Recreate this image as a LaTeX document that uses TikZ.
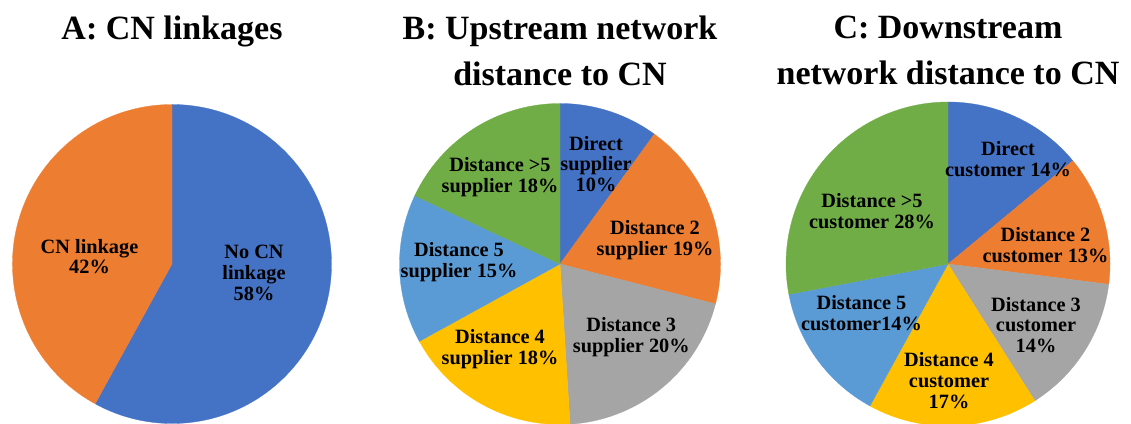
\documentclass[tikz,border=0pt]{standalone}
\usepackage{fontspec}
\setmainfont{Liberation Serif}
\definecolor{piblue}{HTML}{4472C4}
\definecolor{piorange}{HTML}{ED7D31}
\definecolor{pigray}{HTML}{A5A5A5}
\definecolor{piyellow}{HTML}{FFC000}
\definecolor{pilightblue}{HTML}{5B9BD5}
\definecolor{pigreen}{HTML}{70AD47}
\tikzset{
  charttitle/.style={font=\fontsize{34}{45.5}\selectfont\bfseries, align=center, inner sep=0pt, anchor=north},
  slicetext/.style={font=\fontsize{20.3}{20.8}\selectfont\bfseries, align=center, inner sep=0pt}
}
\begin{document}
\begin{tikzpicture}[x=1pt,y=1pt]
  \useasboundingbox (0,0) rectangle (1131,423);
  \clip (0,0) rectangle (1131,423);
  \coordinate (ca) at (172,159);
  \coordinate (cb) at (560,159);
  \coordinate (cc) at (948,159);
  % A: two slices
  \foreach \a/\b/\c in {90/-118.8/piblue, -118.8/-270/piorange}
    \filldraw[fill=\c, draw=\c, line width=0.3pt] (ca) -- ++(\a:159.5pt) arc[start angle=\a, end angle=\b, radius=159.5pt] -- cycle;
  % B: upstream
  \foreach \a/\b/\c in {90/54/piblue, 54/-14.4/piorange, -14.4/-86.4/pigray,
      -86.4/-151.2/piyellow, -151.2/-205.2/pilightblue, -205.2/-270/pigreen}
    \filldraw[fill=\c, draw=\c, line width=0.3pt] (cb) -- ++(\a:160.5pt) arc[start angle=\a, end angle=\b, radius=160.5pt] -- cycle;
  % C: downstream
  \foreach \a/\b/\c in {90/39.6/piblue, 39.6/-7.2/piorange, -7.2/-57.6/pigray,
      -57.6/-118.8/piyellow, -118.8/-169.2/pilightblue, -169.2/-270/pigreen}
    \filldraw[fill=\c, draw=\c, line width=0.3pt] (cc) -- ++(\a:162pt) arc[start angle=\a, end angle=\b, radius=162pt] -- cycle;

  \node[charttitle] (ta) at (172,407) {A: CN linkages};
  \node[charttitle] (tb) at (560,407) {B: Upstream network\\distance to CN};
  \node[charttitle] (tc) at (948,407) {C: Downstream\\network distance to CN};

  \node[slicetext] (a1) at (254,150) {No CN\\linkage\\58\%};
  \node[slicetext] (a2) at (89.5,166.5) {CN linkage\\42\%};

  \node[slicetext] (b1) at (596,259) {Direct\\supplier\\10\%};
  \node[slicetext] (b2) at (655,183.2) {Distance 2\\supplier 19\%};
  \node[slicetext] (b3) at (631.3,85.6) {Distance 3\\supplier 20\%};
  \node[slicetext] (b4) at (500,74) {Distance 4\\supplier 18\%};
  \node[slicetext] (b5) at (459,161) {Distance 5\\supplier 15\%};
  \node[slicetext] (b6) at (500,246) {Distance >5\\supplier 18\%};

  \node[slicetext] (c1) at (1008,264) {Direct\\customer 14\%};
  \node[slicetext] (c2) at (1045.5,178) {Distance 2\\customer 13\%};
  \node[slicetext] (c3) at (1036,98) {Distance 3\\customer\\14\%};
  \node[slicetext] (c4) at (949,42.3) {Distance 4\\customer\\17\%};
  \node[slicetext] (c5) at (861.5,109.8) {Distance 5\\customer14\%};
  \node[slicetext] (c6) at (872,212) {Distance >5\\customer 28\%};
\end{tikzpicture}
\end{document}
